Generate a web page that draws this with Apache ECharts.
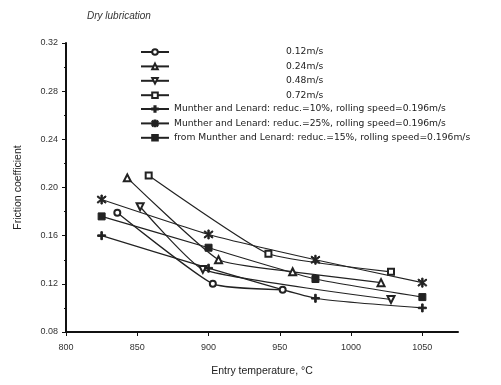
<!DOCTYPE html>
<html>
<head>
<meta charset="utf-8">
<script src="https://cdn.jsdelivr.net/npm/echarts@6/dist/echarts.min.js"></script>
<style>html,body{margin:0;padding:0;background:#fff}#c{width:501px;height:385px}</style>
</head>
<body>
<div id="c"></div>
<script>
// Tick labels
const xTicks = [800, 850, 900, 950, 1000, 1050];
const yTicks = [0.08, 0.12, 0.16, 0.20, 0.24, 0.28, 0.32];

// Series names
const names = [
  "0.12m/s",
  "0.24m/s",
  "0.48m/s",
  "0.72m/s",
  "Munther and Lenard: reduc.=10%, rolling speed=0.196m/s",
  "Munther and Lenard: reduc.=25%, rolling speed=0.196m/s",
  "from Munther and Lenard: reduc.=15%, rolling speed=0.196m/s"
];

// Series values (entry temperature, friction coefficient)
const v012X = [836, 903, 952];
const v012Y = [0.179, 0.120, 0.115];
const v024X = [843, 907, 959, 1021];
const v024Y = [0.208, 0.140, 0.130, 0.121];
const v048X = [852, 896, 1028];
const v048Y = [0.184, 0.132, 0.107];
const v072X = [858, 942, 1028];
const v072Y = [0.210, 0.145, 0.130];
const m10X = [825, 900, 975, 1050];
const m10Y = [0.160, 0.133, 0.108, 0.100];
const m25X = [825, 900, 975, 1050];
const m25Y = [0.190, 0.161, 0.140, 0.121];
const m15X = [825, 900, 975, 1050];
const m15Y = [0.176, 0.150, 0.124, 0.109];

const zip = (xs, ys) => xs.map((x, i) => [x, ys[i]]);

const plusPath = 'path://M4,0h2v10h-2z M0,4h10v2h-10z';
const starPath = 'path://M4.3,0h1.4v10h-1.4z M0.4,2.1L1.1,0.9L9.6,7.9L8.9,9.1z M0.4,7.9L1.1,9.1L9.6,2.1L8.9,0.9z';

const ink = '#222';
function mk(name, data, symbol, size, rotate) {
  return {
    name: name, type: 'line', smooth: 0.15, data: data,
    symbol: symbol, symbolSize: size, symbolRotate: rotate || 0,
    lineStyle: { color: ink, width: 1.2 },
    itemStyle: { color: ink, borderColor: ink, borderWidth: 1 },
    emphasis: { disabled: true },
    z: 3
  };
}

const legendText = { fontFamily: 'DejaVu Sans', fontSize: 9.2, color: '#222', lineHeight: 10 };

const chart = echarts.init(document.getElementById('c'), null, { renderer: 'canvas' });
chart.setOption({
  backgroundColor: '#fff',
  animation: false,
  title: {
    text: 'Dry lubrication', left: 82, top: 6,
    textStyle: { fontFamily: 'Liberation Sans', fontSize: 10, fontStyle: 'italic', fontWeight: 'normal', color: '#333' }
  },
  legend: [
    {
      data: names.slice(0, 4), orient: 'vertical', left: 135, top: 42,
      itemWidth: 28, itemHeight: 7, itemGap: 4.4,
      textStyle: Object.assign({}, legendText, { padding: [0, 0, 0, 112] })
    },
    {
      data: names.slice(4), orient: 'vertical', left: 135, top: 99,
      itemWidth: 28, itemHeight: 7, itemGap: 4.4,
      textStyle: legendText
    }
  ],
  grid: { left: 66, right: 43, top: 43, bottom: 53 },
  xAxis: {
    type: 'value', min: 800, max: 1075, interval: 50,
    name: 'Entry temperature, °C', nameLocation: 'middle', nameGap: 34,
    nameTextStyle: { fontFamily: 'Liberation Sans', fontSize: 10.5, color: '#222' },
    axisLine: { lineStyle: { color: '#111', width: 2 } },
    axisTick: { show: true, length: 4, lineStyle: { color: '#111' }, customValues: xTicks },
    axisLabel: { fontFamily: 'Liberation Sans', fontSize: 9, color: '#333', margin: 11,
      customValues: xTicks, formatter: v => String(v) },
    splitLine: { show: false }
  },
  yAxis: {
    type: 'value', min: 0.08, max: 0.32, interval: 0.04,
    name: 'Friction coefficient', nameLocation: 'middle', nameGap: 42, nameRotate: 90,
    nameTextStyle: { fontFamily: 'Liberation Sans', fontSize: 10.5, color: '#222' },
    axisLine: { show: true, lineStyle: { color: '#111', width: 2 } },
    axisTick: { show: true, length: 4, lineStyle: { color: '#111' } },
    minorTick: { show: true, splitNumber: 2, length: 2, lineStyle: { color: '#111' } },
    axisLabel: { fontFamily: 'Liberation Sans', fontSize: 9, color: '#333', margin: 8,
      formatter: v => v.toFixed(2) },
    splitLine: { show: false }
  },
  series: [
    mk(names[0], zip(v012X, v012Y), 'emptyCircle', 6),
    mk(names[1], zip(v024X, v024Y), 'emptyTriangle', 7),
    mk(names[2], zip(v048X, v048Y), 'emptyTriangle', 7, 180),
    mk(names[3], zip(v072X, v072Y), 'emptyRect', 6),
    mk(names[4], zip(m10X, m10Y), plusPath, 8),
    mk(names[5], zip(m25X, m25Y), starPath, 9),
    mk(names[6], zip(m15X, m15Y), 'rect', 7)
  ]
});
</script>
</body>
</html>
